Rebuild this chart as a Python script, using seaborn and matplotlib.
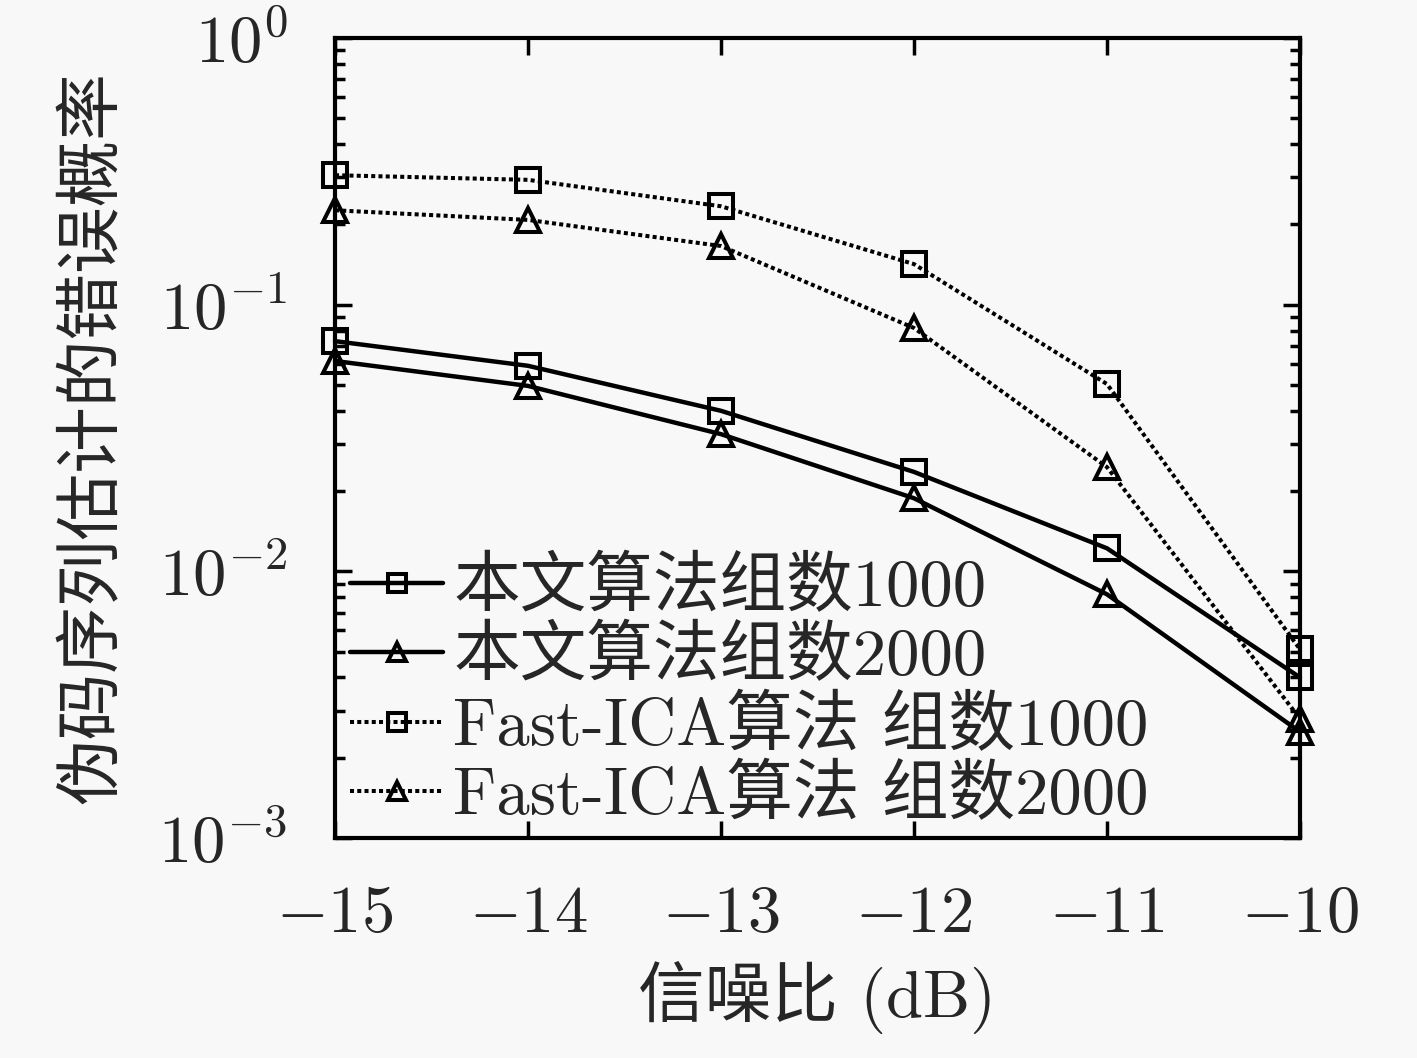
import seaborn as sns
import matplotlib.pyplot as plt
import matplotlib.ticker as mticker

# SNR (dB) and estimated error probability
snr = [-15, -14, -13, -12, -11, -10]
ours_1000 = [0.073, 0.059, 0.040, 0.0236, 0.0122, 0.0040]
ours_2000 = [0.0615, 0.0496, 0.0327, 0.0188, 0.0082, 0.0025]
fica_1000 = [0.306, 0.294, 0.234, 0.142, 0.0504, 0.0051]
fica_2000 = [0.226, 0.208, 0.166, 0.0818, 0.0246, 0.0028]

labels = ['本文算法组数1000', '本文算法组数2000',
          'Fast-ICA算法 组数1000', 'Fast-ICA算法 组数2000']
xlabel = '信噪比 (dB)'
ylabel = '伪码序列估计的错误概率'

sns.set_style('ticks')
plt.rcParams['font.family'] = ['cmr10', 'Noto Sans CJK SC', 'DejaVu Sans']
plt.rcParams['mathtext.fontset'] = 'cm'
plt.rcParams['axes.formatter.use_mathtext'] = True
plt.rcParams['axes.unicode_minus'] = True

bg = '#f8f8f8'
fig = plt.figure(figsize=(14.17, 10.58), dpi=100, facecolor=bg)
ax = fig.add_axes([0.2364, 0.208, 0.681, 0.756])
ax.set_facecolor(bg)

series = [(ours_1000, '-', 's'), (ours_2000, '-', '^'),
          (fica_1000, ':', 's'), (fica_2000, ':', '^')]
for (vals, ls, mk), lab in zip(series, labels):
    sns.lineplot(x=snr, y=vals, ax=ax, color='black', linestyle=ls,
                 marker=mk, label=lab)

# seaborn overrides some of the marker styling, so set it on the lines
for line, (vals, ls, mk) in zip(ax.lines, series):
    line.set_linewidth(3.2 if ls == '-' else 2.9)
    if ls == ':':
        line.set_dashes((1.0, 0.8))
    line.set_markersize(17)
    line.set_markerfacecolor('none')
    line.set_markeredgecolor('black')
    line.set_markeredgewidth(2.9)
    line.set_clip_on(False)
    line.set_zorder(5)

ax.set_yscale('log')
ax.set_ylim(1e-3, 1)
ax.set_xlim(-15, -10)
ax.set_xticks(snr)
ax.yaxis.set_minor_locator(mticker.LogLocator(base=10, subs=range(2, 10)))

for s in ax.spines.values():
    s.set_linewidth(3)
    s.set_color('black')
ax.tick_params(which='both', direction='in', top=True, right=True,
               labelsize=48, pad=34, width=2.5, color='black')
ax.tick_params(which='major', length=12)
ax.tick_params(which='minor', length=7)
ax.tick_params(axis='x', which='minor', bottom=False, top=False)

ax.set_xlabel(xlabel, fontsize=48, labelpad=12)
ax.set_ylabel(ylabel, fontsize=48, labelpad=24)

ax.legend(loc='lower left', bbox_to_anchor=(-0.026, -0.037), frameon=False,
          fontsize=48, handlelength=1.4, handletextpad=0.15,
          labelspacing=0.11, borderaxespad=0.2, markerscale=0.8)

fig.savefig('out.png', dpi=100, facecolor=bg)
